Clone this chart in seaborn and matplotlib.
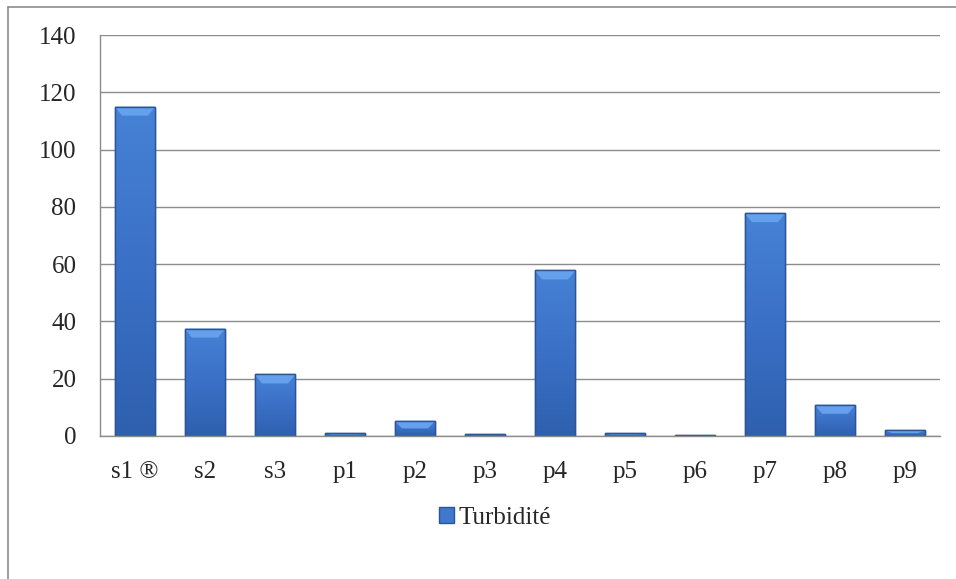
import matplotlib
matplotlib.use("Agg")
import matplotlib.pyplot as plt
import seaborn as sns
import pandas as pd
import numpy as np
from matplotlib.patches import Rectangle, Polygon
from matplotlib.lines import Line2D
from matplotlib.colors import LinearSegmentedColormap

categories = ["s1 ®", "s2", "s3", "p1", "p2", "p3", "p4", "p5", "p6", "p7", "p8", "p9"]
turbidite = [115, 37.5, 21.5, 1.0, 5.3, 0.6, 57.8, 1.0, 0.3, 77.8, 10.9, 2.0]
yticks = [0, 20, 40, 60, 80, 100, 120, 140]

df = pd.DataFrame({"site": categories, "Turbidité": turbidite})

sns.set_style("white")
plt.rcParams["font.family"] = ["Liberation Serif", "DejaVu Serif"]

fig = plt.figure(figsize=(9.56, 5.79), dpi=100)
ax = fig.add_axes([100/956, 1-436/579, 840/956, 401/579])

sns.barplot(data=df, x="site", y="Turbidité", ax=ax, color="#3A6EC2",
            width=0.58, edgecolor="#2B5597", linewidth=1.0, saturation=1)

ax.set_ylim(0, 140)
ax.set_xlim(-0.5, len(categories) - 0.5)

# gradient shading + top bevel on each bar (derived from the drawn patches)
cmap = LinearSegmentedColormap.from_list("bar", ["#2E60AE", "#3A70C6", "#4682D6"])
grad = np.linspace(0, 1, 256).reshape(-1, 1)
px_per_unit = (401 / 140)
for p in list(ax.patches):
    x0, w, h = p.get_x(), p.get_width(), p.get_height()
    if h <= 0:
        continue
    im = ax.imshow(grad, cmap=cmap, origin="lower", aspect="auto",
                   extent=(x0, x0 + w, 0, h), zorder=p.get_zorder() + 0.1)
    im.set_clip_path(p)
    bev = min(9 / px_per_unit, h * 0.5)
    inset = w * 0.18
    poly = Polygon([[x0, h], [x0 + w, h], [x0 + w - inset, h - bev], [x0 + inset, h - bev]],
                   closed=True, facecolor="#64A0EC", edgecolor="none",
                   zorder=p.get_zorder() + 0.2)
    ax.add_patch(poly)
    edge = Rectangle((x0, 0), w, h, facecolor="none", edgecolor="#2B5597",
                     linewidth=1.0, zorder=p.get_zorder() + 0.3)
    ax.add_patch(edge)

ax.set_xlim(-0.5, len(categories) - 0.5)
ax.set_ylim(0, 140)
ax.set_yticks(yticks)
ax.set_yticklabels([str(v) for v in yticks], fontsize=18)
ax.tick_params(axis="x", labelsize=18, pad=18, length=0)
ax.tick_params(axis="y", pad=17, length=0)
ax.set_xlabel("")
ax.set_ylabel("")
ax.yaxis.grid(True, color="#8c8c8c", linewidth=1.0)
ax.set_axisbelow(True)
for s in ["top", "right"]:
    ax.spines[s].set_visible(False)
ax.spines["left"].set_color("#8c8c8c")
ax.spines["bottom"].set_color("#8c8c8c")
ax.spines["left"].set_linewidth(1.0)
ax.spines["bottom"].set_linewidth(1.0)

# outer chart frame (partially visible)
fig.add_artist(Line2D([8/956, 8/956], [0, 1-7/579], transform=fig.transFigure,
                      color="#8c8c8c", linewidth=1.2))
fig.add_artist(Line2D([8/956, 1], [1-7/579, 1-7/579], transform=fig.transFigure,
                      color="#8c8c8c", linewidth=1.2))

handle = Rectangle((0, 0), 1, 1, facecolor="#3F78CC", edgecolor="#2B5597")
fig.legend([handle], ["Turbidité"], loc="center", bbox_to_anchor=(495/956, 1-518/579),
           frameon=False, fontsize=18, handlelength=0.6, handleheight=0.6,
           handletextpad=0.15)

fig.savefig("out.png", dpi=100)
